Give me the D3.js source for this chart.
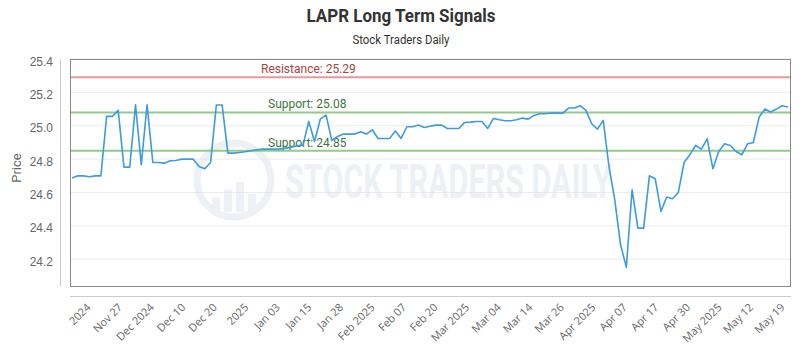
<!DOCTYPE html>
<html>
<head>
<meta charset="utf-8">
<script src="https://cdn.jsdelivr.net/npm/d3@7"></script>
<style>
  body { margin: 0; background: #fff; }
  svg { display: block; font-family: Roboto, "Open Sans", sans-serif; }
</style>
</head>
<body>
<div id="chart"></div>
<script>
// closing prices, one per trading day (Nov 2024 - May 2025)
var prices = [
    24.687, 24.70, 24.70, 24.695, 24.70, 24.70, 25.056, 25.056, 25.092, 24.752,
    24.752, 25.126, 24.766, 25.126, 24.78, 24.78, 24.776, 24.79, 24.792, 24.80,
    24.80, 24.80, 24.756, 24.742, 24.78, 25.124, 25.124, 24.836, 24.836, 24.84,
    24.844, 24.85, 24.856, 24.86, 24.86, 24.86, 24.86, 24.866, 24.872, 24.88,
    24.884, 25.026, 24.906, 25.04, 25.064, 24.912, 24.936, 24.95, 24.95, 24.95,
    24.964, 24.95, 24.976, 24.924, 24.924, 24.924, 24.968, 24.924, 24.994, 24.994,
    25.004, 24.99, 24.997, 25.004, 25.004, 24.984, 24.984, 24.984, 25.02, 25.022,
    25.026, 25.026, 24.984, 25.044, 25.036, 25.03, 25.03, 25.036, 25.046, 25.04,
    25.062, 25.072, 25.072, 25.076, 25.076, 25.076, 25.106, 25.106, 25.12, 25.092,
    25.012, 24.98, 25.032, 24.756, 24.556, 24.287, 24.153, 24.617, 24.387, 24.387,
    24.70, 24.683, 24.487, 24.573, 24.563, 24.60, 24.78, 24.826, 24.882, 24.86,
    24.922, 24.742, 24.846, 24.892, 24.882, 24.846, 24.826, 24.892, 24.90, 25.052,
    25.10, 25.082, 25.10, 25.12, 25.112
];

var x_labels = ['2024', 'Nov 27', 'Dec 2024', 'Dec 10', 'Dec 20', '2025', 'Jan 03',
    'Jan 15', 'Jan 28', 'Feb 2025', 'Feb 07', 'Feb 20', 'Mar 2025', 'Mar 04',
    'Mar 14', 'Mar 26', 'Apr 2025', 'Apr 07', 'Apr 17', 'Apr 30', 'May 2025',
    'May 12', 'May 19'];

var y_ticks = [24.2, 24.4, 24.6, 24.8, 25.0, 25.2, 25.4];

var levels = [
    { name: 'Resistance', value: 25.29 },
    { name: 'Support', value: 25.08 },
    { name: 'Support', value: 24.85 }
];

var chart_width = 800;
var chart_height = 350;
var plot = { left: 70, right: 791, top: 59, bottom: 286 };

var svg = d3.select('#chart')
    .append('svg')
    .attr('width', chart_width)
    .attr('height', chart_height);

// scales
var xScale = d3.scaleLinear()
    .domain([0, prices.length - 1])
    .range([72, 788]);

var yScale = d3.scaleLinear()
    .domain([24.04, 25.4])
    .range([plot.bottom, plot.top]);

var labelScale = d3.scalePoint()
    .domain(x_labels)
    .range([91, 785]);

// titles
svg.append('text')
    .attr('x', 401).attr('y', 22)
    .attr('text-anchor', 'middle')
    .attr('font-size', 18).attr('font-weight', 'bold')
    .attr('fill', '#333')
    .attr('textLength', 189).attr('lengthAdjust', 'spacingAndGlyphs')
    .text('LAPR Long Term Signals');

svg.append('text')
    .attr('x', 401).attr('y', 44)
    .attr('text-anchor', 'middle')
    .attr('font-size', 12)
    .attr('fill', '#333')
    .attr('textLength', 97).attr('lengthAdjust', 'spacingAndGlyphs')
    .text('Stock Traders Daily');

// gridlines
svg.append('g')
    .selectAll('line')
    .data(y_ticks)
    .enter()
    .append('line')
    .attr('x1', plot.left).attr('x2', plot.right)
    .attr('y1', function(d) { return yScale(d); })
    .attr('y2', function(d) { return yScale(d); })
    .attr('stroke', '#ececec');

// watermark
var wm = svg.append('g').attr('opacity', 0.55);
wm.append('circle')
    .attr('cx', 234).attr('cy', 180).attr('r', 37)
    .attr('fill', 'none').attr('stroke', '#dfe6ee').attr('stroke-width', 7);
[[-18, 14], [-6, 22], [6, 30], [18, 18]].forEach(function(b) {
    wm.append('rect')
        .attr('x', 234 + b[0] - 4).attr('y', 212 - b[1])
        .attr('width', 8).attr('height', b[1])
        .attr('fill', '#dfe6ee');
});
wm.append('text')
    .attr('x', 285).attr('y', 198)
    .attr('font-size', 48).attr('font-weight', 'bold')
    .attr('fill', '#dfe6ee')
    .attr('textLength', 327).attr('lengthAdjust', 'spacingAndGlyphs')
    .text('STOCK TRADERS DAILY');

// support / resistance lines
var lv = svg.append('g')
    .selectAll('g')
    .data(levels)
    .enter()
    .append('g');

lv.append('line')
    .attr('x1', plot.left).attr('x2', plot.right)
    .attr('y1', function(d) { return yScale(d.value); })
    .attr('y2', function(d) { return yScale(d.value); })
    .attr('stroke', function(d) { return d.name == 'Resistance' ? '#e49a9a' : '#93c98a'; })
    .attr('stroke-width', 2);

lv.append('text')
    .attr('x', function(d) { return d.name == 'Resistance' ? 261 : 268; })
    .attr('y', function(d) { return yScale(d.value) - 4; })
    .attr('font-size', 12)
    .attr('fill', function(d) { return d.name == 'Resistance' ? '#a94442' : '#3c763d'; })
    .text(function(d) { return d.name + ': ' + d.value.toFixed(2); });

// price line
var line = d3.line()
    .x(function(d, i) { return xScale(i); })
    .y(function(d) { return yScale(d); });

svg.append('path')
    .datum(prices)
    .attr('d', line)
    .attr('fill', 'none')
    .attr('stroke', '#3d9be0')
    .attr('stroke-width', 1.6)
    .attr('stroke-linejoin', 'round');

// plot frame
svg.append('rect')
    .attr('x', plot.left + 0.5).attr('y', plot.top + 0.5)
    .attr('width', plot.right - plot.left - 1)
    .attr('height', plot.bottom - plot.top)
    .attr('fill', 'none')
    .attr('stroke', '#888');

// y axis
var yAxis = svg.append('g')
    .attr('transform', 'translate(60,0)')
    .call(d3.axisLeft(yScale).tickValues(y_ticks).tickSize(0).tickPadding(7)
        .tickFormat(d3.format('.1f')));
yAxis.select('.domain').attr('stroke', '#ccc');
yAxis.selectAll('text')
    .attr('dy', '0.5em')
    .attr('font-size', 12)
    .attr('fill', '#666');

svg.append('text')
    .attr('transform', 'translate(21,168) rotate(-90)')
    .attr('text-anchor', 'middle')
    .attr('font-size', 13)
    .attr('fill', '#666')
    .text('Price');

// x axis
svg.append('line')
    .attr('x1', plot.left).attr('x2', plot.right)
    .attr('y1', 296.5).attr('y2', 296.5)
    .attr('stroke', '#ccc');

var xAxis = svg.append('g')
    .attr('transform', 'translate(0,296)')
    .call(d3.axisBottom(labelScale).tickSize(0));
xAxis.select('.domain').remove();
xAxis.selectAll('text')
    .attr('x', 0).attr('y', 0).attr('dy', 0)
    .attr('text-anchor', 'end')
    .attr('transform', 'translate(0,12) rotate(-45)')
    .attr('font-family', '"Open Sans", sans-serif')
    .attr('font-size', 11)
    .attr('fill', '#666');
</script>
</body>
</html>
